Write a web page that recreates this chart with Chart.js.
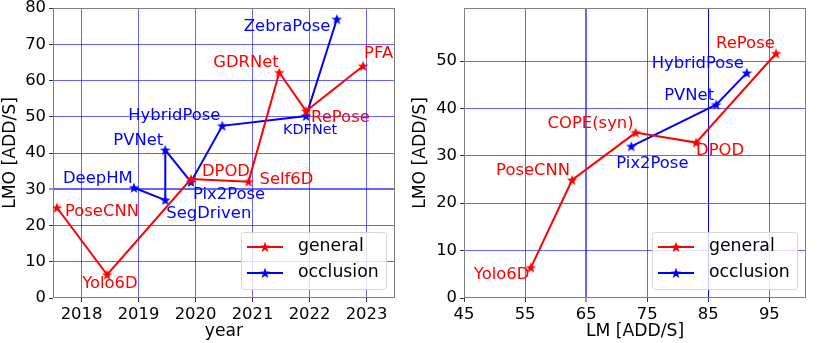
<!DOCTYPE html>
<html>
<head>
<meta charset="utf-8">
<script src="https://cdn.jsdelivr.net/npm/chart.js@4.4.1/dist/chart.umd.min.js"></script>
<style>
html, body { margin: 0; padding: 0; background: #fff; }
#wrap { position: relative; width: 830px; height: 343px; }
#left { position: absolute; left: 0; top: 0; }
#right { position: absolute; left: 410px; top: 0; }
</style>
</head>
<body>
<div id="wrap">
  <canvas id="left" width="410" height="343"></canvas>
  <canvas id="right" width="420" height="343"></canvas>
</div>
<script>
// left panel: year vs LMO
const yearTicks = [2018, 2019, 2020, 2021, 2022, 2023];
const lmoTicksLeft = [0, 10, 20, 30, 40, 50, 60, 70, 80];
const genNamesYear = ['PoseCNN', 'Yolo6D', 'DPOD', 'Self6D', 'GDRNet', 'RePose', 'PFA'];
const genYear = [2017.57, 2018.45, 2019.92, 2020.93, 2021.47, 2021.94, 2022.94];
const genLmoYear = [24.9, 6.42, 32.8, 32.1, 62.2, 51.6, 64.0];
const occNamesYear = ['DeepHM', 'SegDriven', 'PVNet', 'Pix2Pose', 'HybridPose', 'KDFNet', 'ZebraPose'];
const occYear = [2018.92, 2019.47, 2019.47, 2019.92, 2020.47, 2021.94, 2022.48];
const occLmoYear = [30.4, 27.0, 40.8, 32.0, 47.5, 50.2, 76.9];

// right panel: LM vs LMO
const lmTicks = [45, 55, 65, 75, 85, 95];
const lmoTicksRight = [0, 10, 20, 30, 40, 50];
const genNamesLm = ['Yolo6D', 'PoseCNN', 'COPE(syn)', 'DPOD', 'RePose'];
const genLm = [55.95, 62.7, 73.1, 83.0, 96.1];
const genLmoLm = [6.42, 24.9, 34.9, 32.8, 51.6];
const occNamesLm = ['Pix2Pose', 'PVNet', 'HybridPose'];
const occLm = [72.4, 86.3, 91.3];
const occLmoLm = [32.0, 40.8, 47.5];

const FONT = '"DejaVu Sans", sans-serif';
const FS = 16.4;
const TITLE_FS = 17.2;

// where each name sits relative to its marker (px: left edge, text middle)
const offsLeft = {
  'PoseCNN': [8, 4], 'Yolo6D': [-25, 9], 'DPOD': [11, -7], 'Self6D': [11, -2],
  'GDRNet': [-66, -10], 'RePose': [5, 7], 'PFA': [1, -12],
  'DeepHM': [-71, -9], 'SegDriven': [1, 14], 'PVNet': [-52, -9], 'Pix2Pose': [2, 13],
  'HybridPose': [-94, -10], 'KDFNet': [-23, 14], 'ZebraPose': [-93, 8]
};
const offsRight = {
  'Yolo6D': [-57, 7], 'PoseCNN': [-76, -9], 'COPE(syn)': [-88, -9], 'DPOD': [0, 8],
  'RePose': [-60, -10], 'Pix2Pose': [-15, 17], 'PVNet': [-52, -9], 'HybridPose': [-95, -9]
};
const smallNames = { 'KDFNet': 14.4 };

function makeStar(color) {
  const c = document.createElement('canvas');
  c.width = 12; c.height = 12;
  const g = c.getContext('2d');
  g.fillStyle = color;
  g.beginPath();
  for (let i = 0; i < 10; i++) {
    const r = i % 2 ? 2.3 : 5.6;
    const a = -Math.PI / 2 + i * Math.PI / 5;
    const px = 6 + r * Math.cos(a), py = 6.4 + r * Math.sin(a);
    if (i) g.lineTo(px, py); else g.moveTo(px, py);
  }
  g.closePath();
  g.fill();
  return c;
}
const redStar = makeStar('#ff0000');
const blueStar = makeStar('#0000ff');

const framePlugin = {
  id: 'frame',
  beforeDatasetsDraw(chart) {
    const a = chart.chartArea, g = chart.ctx;
    g.save();
    g.strokeStyle = '#808080';
    g.lineWidth = 1;
    g.strokeRect(Math.round(a.left) + 0.5, Math.round(a.top) + 0.5,
      Math.round(a.right - a.left) - 1, Math.round(a.bottom - a.top) - 1);
    g.restore();
  }
};

const namesPlugin = {
  id: 'pointNames',
  afterDatasetsDraw(chart, args, opts) {
    const g = chart.ctx;
    g.save();
    g.textBaseline = 'middle';
    g.textAlign = 'left';
    chart.data.datasets.forEach((ds, di) => {
      const meta = chart.getDatasetMeta(di);
      ds.names.forEach((name, i) => {
        const pt = meta.data[i];
        const off = opts.offsets[name] || [4, -8];
        g.fillStyle = ds.borderColor;
        g.font = (smallNames[name] || FS) + 'px ' + FONT;
        g.fillText(name, pt.x + off[0], pt.y + off[1]);
      });
    });
    g.restore();
  }
};

const boxLegend = {
  id: 'boxLegend',
  afterDraw(chart) {
    const a = chart.chartArea, g = chart.ctx;
    const w = 145, h = 57;
    const x0 = a.right - 9 - w, y0 = a.bottom - 9 - h;
    g.save();
    g.beginPath();
    g.roundRect(x0 + 0.5, y0 + 0.5, w, h, 3);
    g.fillStyle = 'rgba(255,255,255,0.8)';
    g.fill();
    g.strokeStyle = '#d6d6d6';
    g.lineWidth = 1;
    g.stroke();
    chart.data.datasets.forEach((ds, i) => {
      const y = y0 + 15 + i * 26;
      g.strokeStyle = ds.borderColor;
      g.lineWidth = 2;
      g.beginPath();
      g.moveTo(x0 + 6, y);
      g.lineTo(x0 + 42, y);
      g.stroke();
      g.drawImage(ds.pointStyle, x0 + 24 - 6, y - 6);
      g.fillStyle = '#000';
      g.font = '17.3px ' + FONT;
      g.textBaseline = 'middle';
      g.fillText(ds.label, x0 + 57, y);
    });
    g.restore();
  }
};

function series(label, names, xs, ys, color, star) {
  return {
    label: label,
    names: names,
    data: xs.map((x, i) => ({ x: x, y: ys[i] })),
    showLine: true,
    borderColor: color,
    backgroundColor: color,
    borderWidth: 2,
    pointStyle: star,
    pointRadius: 5,
    tension: 0
  };
}

function axis(min, max, tickList, title, size, isX, gridColor, gridWidth) {
  return {
    type: 'linear',
    min: min,
    max: max,
    afterBuildTicks: s => { s.ticks = tickList.map(v => ({ value: v })); },
    afterFit: s => {
      if (isX) { s.height = size; s.paddingLeft = 0; s.paddingRight = 0; }
      else { s.width = size; s.paddingTop = 0; s.paddingBottom = 0; }
    },
    ticks: {
      color: '#000',
      font: { family: FONT, size: FS },
      padding: 3,
      autoSkip: false,
      maxRotation: 0,
      callback: v => String(v)
    },
    grid: {
      color: gridColor,
      lineWidth: gridWidth,
      tickColor: '#333',
      tickLength: 4,
      tickWidth: 1
    },
    border: { display: false },
    title: {
      display: true,
      text: title,
      color: '#000',
      font: { family: FONT, size: TITLE_FS },
      padding: { top: 0, bottom: isX ? 1 : 3 }
    }
  };
}

const soft = 'rgba(0,0,255,0.6)';

new Chart(document.getElementById('left'), {
  type: 'scatter',
  data: {
    datasets: [
      series('general', genNamesYear, genYear, genLmoYear, '#ff0000', redStar),
      series('occlusion', occNamesYear, occYear, occLmoYear, '#0000ff', blueStar)
    ]
  },
  options: {
    responsive: false,
    animation: false,
    layout: { padding: { top: 8, right: 15, left: 0, bottom: 0 } },
    plugins: { legend: { display: false }, tooltip: { enabled: false }, pointNames: { offsets: offsLeft } },
    scales: {
      x: axis(2017.5, 2023.5, yearTicks, 'year', 45, true, soft, 1),
      y: axis(0, 80, lmoTicksLeft, 'LMO [ADD/S]', 53, false,
        c => c.tick.value === 0 ? 'rgba(0,0,0,0)' : soft,
        c => c.tick.value === 30 ? 2 : 1)
    }
  },
  plugins: [framePlugin, namesPlugin, boxLegend]
});

new Chart(document.getElementById('right'), {
  type: 'scatter',
  data: {
    datasets: [
      series('general', genNamesLm, genLm, genLmoLm, '#ff0000', redStar),
      series('occlusion', occNamesLm, occLm, occLmoLm, '#0000ff', blueStar)
    ]
  },
  options: {
    responsive: false,
    animation: false,
    layout: { padding: { top: 8, right: 24, left: 0, bottom: 0 } },
    plugins: { legend: { display: false }, tooltip: { enabled: false }, pointNames: { offsets: offsRight } },
    scales: {
      x: axis(45, 101, lmTicks, 'LM [ADD/S]', 45, true,
        c => c.tick.value === 45 ? 'rgba(0,0,0,0)' : (c.tick.value === 85 ? '#0000ff' : soft),
        c => c.tick.value === 65 ? 2 : 1),
      y: axis(0, 61.2, lmoTicksRight, 'LMO [ADD/S]', 54, false,
        c => c.tick.value === 0 ? 'rgba(0,0,0,0)' : soft, 1)
    }
  },
  plugins: [framePlugin, namesPlugin, boxLegend]
});
</script>
</body>
</html>
